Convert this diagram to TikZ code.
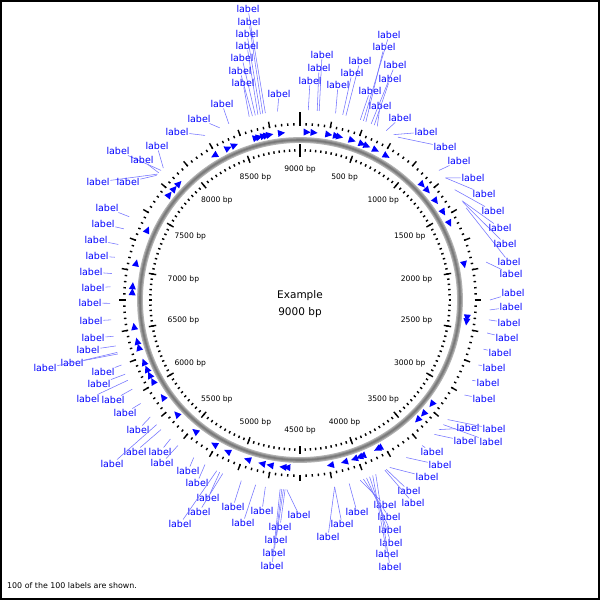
\documentclass[tikz,border=0pt]{standalone}
\usepackage{fontspec}
\setmainfont{DejaVu Sans}
\begin{document}
\begin{tikzpicture}[x=1pt,y=-1pt,
  lab/.style={text=blue, font=\fontsize{9.5}{10}\selectfont, inner sep=0.6pt},
  leader/.style={draw=blue!55, line width=0.55pt},
  feat/.style={fill=blue, draw=none},
  tick/.style={line width=1.4pt},
  tlab/.style={font=\fontsize{7.6}{8}\selectfont, inner sep=0pt}]
\useasboundingbox (0,0) rectangle (600,600);
\fill[white] (0,0) rectangle (600,600);
\draw[line width=2pt] (1,1) rectangle (599,599);
\begin{scope}[shift={(300,300)}]
  % backbone
  \draw[black!30, line width=5.8pt] (0,0) circle[radius=160pt];
  \draw[black!42, line width=3.6pt] (0,0) circle[radius=160pt];
  \draw[black!52, line width=1.6pt] (0,0) circle[radius=160pt];
  % inner ticks
  \foreach \i in {0,...,179} {\draw[tick] (\i*2-90:148.5) -- (\i*2-90:151);}
  \foreach \i in {1,...,17} {\draw[tick] (\i*20-90:146) -- (\i*20-90:153.5);}
  \draw[line width=1.8pt] (-90:143.5) -- (-90:156.5);
  % outer ticks
  \foreach \i in {0,...,179} {\draw[tick] (\i*2-90:174.5) -- (\i*2-90:177);}
  \foreach \i in {1,...,35} {\draw[tick] (\i*10-90:175) -- (\i*10-90:181);}
  \draw[line width=1.8pt] (-90:175) -- (-90:188);
  % tick labels
  \node[tlab, anchor=90] (t0) at (-90:134.5) {9000 bp};
  \foreach \i in {1,...,17} {
    \pgfmathtruncatemacro\bp{\i*500}
    \pgfmathtruncatemacro\an{mod(450-\i*20,360)}
    \node[tlab, anchor=\an] (t\i) at (\i*20-90:134.5) {\bp\ bp};
  }
  % features
  \foreach \x/\y/\d in {255/134/1,258/133/1,263/133/1,266/132/1,269/132/1,281/131/1,
    307/129/1,314/130/1,329/132/1,337/133/1,340/134/1,353/137/1,363/141/1,368/143/1,
    377/147/1,388/153/1,213/153/-1,227/146/1,233/142/1,177/182/1,172/187/1,167/193/1,
    143/228/1,424/183/1,429/189/1,437/200/1,445/211/1,452/222/1,466/264/1,469/318/1,
    469/322/1,433/405/1,425/415/1,420/422/1,378/450/1,381/451/1,363/457/1,360/458/1,
    355/460/1,345/463/1,331/467/1,287/469/1,283/469/1,270/467/1,262/464/1,247/462/1,
    227/453/1,213/447/1,194/433/1,176/415/1,162/398/1,152/382/1,148/376/1,145/370/1,
    142/363/1,137/348/1,135/342/1,132/327/1,131/262/1,133/286/1,132/292/1} {
    \pgfmathsetmacro\t{atan2(\x-300,300-\y)}
    \pgfmathsetmacro\ta{\t-90+1.3*(\d)}
    \pgfmathsetmacro\tb{\t-90-1.1*(\d)}
    \fill[feat] (\ta:168) -- (\tb:164.5) -- (\tb:171.5) -- cycle;
  }
\end{scope}
% labels
\foreach \x/\y/\a [count=\n] in {
  248/9/-10.5, 249/22/-11.3, 247/34/-12, 247/46/-12.8, 242/58/-13.6, 240/71/-14.5,
  243/83/-15.5, 279/94/-6.8, 222/104/-22, 199/119/-25, 177/132/-30, 157/146/-46,
  118/151/-47, 142/160/-48, 98/182/-48.5, 128/182/-49, 107/208/-64, 103/224/-68,
  96/240/-73, 97/256/-77, 91/272/-82, 93/288/-86, 90/303/-91, 91/321/-96,
  93/338/-101, 88/350/-104, 72/363/-106, 45/368/-106.5, 103/372/-110, 99/384/-113,
  88/399/-115, 113/400/-118, 125/413/-123, 138/430/-128, 135/452/-133, 160/452/-137,
  112/464/-131, 162/463/-140, 188/471/-146, 197/483/-150, 208/498/-155, 199/512/-156,
  180/524/-154, 233/507/-162, 243/523/-166.5, 262/511/-169.5, 299/515/-176, 280/527/-175.5,
  276/540/-175, 274/553/-174.5, 272/566/-174, 328/537/169.5, 342/524/169.5, 357/512/165,
  385/505/161.5, 389/517/160.5, 390/530/159.5, 391/543/158.5, 387/554/157.5, 390/567/156.5,
  409/491/153, 413/503/153.5, 427/477/151.8, 432/452/140, 465/441/135, 491/442/131,
  468/428/133, 494/429/129, 484/399/120, 488/383/115, 494/368/110, 500/353/105,
  507/338/100, 509/323/96, 511/307/93, 513/293/90, 511/274/78.5, 509/262/61,
  505/244/59, 500/228/58.5, 493/211/54.5, 484/194/50, 473/178/50, 459/161/47,
  445/147/31, 426/132/29.5, 400/118/27, 380/106/24, 370/91/18.5, 390/79/23,
  395/65/22, 384/47/20.3, 389/35/19.5, 360/61/14, 352/73/13, 338/85/10.8,
  322/55/5.8, 319/68/5.2, 310/81/2.5, 440/465/146} {
  \node[lab] (L\n) at (\x,\y) {label};
  \pgfmathsetmacro\px{300+190*sin(\a)}
  \pgfmathsetmacro\py{300-190*cos(\a)}
  \coordinate (P\n) at (\px,\py);
  \draw[leader] (L\n) -- (P\n);
}
% centre title
\node[align=center, font=\fontsize{10.5}{17}\selectfont] (title) at (300,304) {Example\\9000 bp};
% footer
\node[anchor=west, font=\fontsize{7.9}{9}\selectfont, inner sep=0pt] (foot) at (7,586) {100 of the 100 labels are shown.};
\end{tikzpicture}
\end{document}
